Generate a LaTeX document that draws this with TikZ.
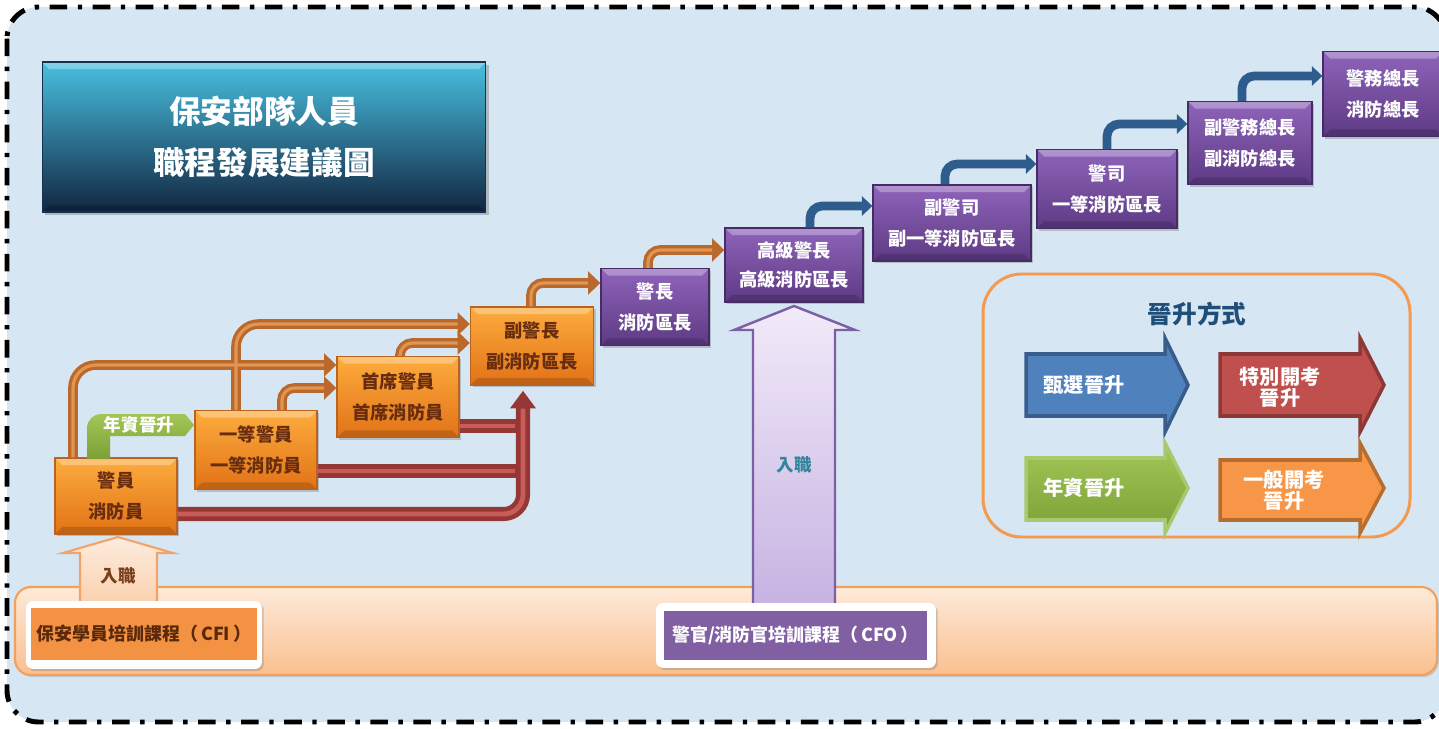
\documentclass[tikz,border=0pt]{standalone}
\usepackage{fontspec}
\newfontfamily\cjk{Noto Sans CJK TC}
\usetikzlibrary{arrows.meta,calc,shadows}

\definecolor{bgblue}{RGB}{215,230,243}
\definecolor{orgtop}{RGB}{252,172,62}
\definecolor{orgbot}{RGB}{226,114,22}
\definecolor{orgline}{RGB}{184,100,32}
\definecolor{orgtext}{RGB}{104,44,14}
\definecolor{purtop}{RGB}{142,100,186}
\definecolor{purbot}{RGB}{94,58,132}
\definecolor{purline}{RGB}{70,44,100}
\definecolor{arrorange}{RGB}{186,104,44}
\definecolor{arrorangein}{RGB}{224,150,80}
\definecolor{arrred}{RGB}{149,55,53}
\definecolor{arrredin}{RGB}{200,92,88}
\definecolor{arrblue}{RGB}{46,92,140}
\definecolor{lgblue}{RGB}{79,129,189}
\definecolor{lgblueline}{RGB}{56,93,138}
\definecolor{lgred}{RGB}{192,80,77}
\definecolor{lgredline}{RGB}{140,56,54}
\definecolor{lggreentop}{RGB}{164,198,88}
\definecolor{lggreenbot}{RGB}{124,160,54}
\definecolor{lgorange}{RGB}{247,150,70}
\definecolor{lgorangeline}{RGB}{182,109,49}
\definecolor{lgtitle}{RGB}{31,78,121}
\definecolor{legendline}{RGB}{245,154,76}
\definecolor{bartop}{RGB}{253,234,218}
\definecolor{barbot}{RGB}{250,192,143}
\definecolor{barline}{RGB}{245,160,90}
\definecolor{cfiorange}{RGB}{243,146,66}
\definecolor{cfitext}{RGB}{90,40,10}
\definecolor{cfopurple}{RGB}{128,96,162}
\definecolor{entryteal}{RGB}{49,133,155}
\definecolor{entrybrown}{RGB}{122,63,26}

\tikzset{
  frameline/.style={line width=2.8pt, dash pattern=on 10pt off 6pt on 2.5pt off 6pt,
    rounded corners=18pt},
  bevel/.style={path picture={
    \fill[white, opacity=0.3] (path picture bounding box.north west) -- (path picture bounding box.north east)
      -- ([xshift=-4pt,yshift=-4pt]path picture bounding box.north east)
      -- ([xshift=4pt,yshift=-4pt]path picture bounding box.north west) -- cycle;
    \fill[black, opacity=0.15] (path picture bounding box.south west) -- (path picture bounding box.south east)
      -- ([xshift=-4pt,yshift=4pt]path picture bounding box.south east)
      -- ([xshift=4pt,yshift=4pt]path picture bounding box.south west) -- cycle;}},
  orangebox/.style={draw=orgline, line width=0.8pt, top color=orgtop, bottom color=orgbot,
    text=orgtext, align=center, inner sep=0pt, bevel,
    font=\cjk\bfseries\fontsize{10.4}{18}\selectfont,
    drop shadow={opacity=0.4, shadow xshift=1.2pt, shadow yshift=-1.2pt}},
  purplebox/.style={draw=purline, line width=0.8pt, top color=purtop, bottom color=purbot,
    text=white, align=center, inner sep=0pt, bevel,
    font=\cjk\bfseries\fontsize{10.4}{18}\selectfont,
    drop shadow={opacity=0.4, shadow xshift=1.2pt, shadow yshift=-1.2pt}},
  titlebox/.style={draw={rgb,255:red,20;green,50;blue,80}, line width=0.6pt,
    top color={rgb,255:red,72;green,192;blue,224},
    middle color={rgb,255:red,36;green,118;blue,152},
    bottom color={rgb,255:red,18;green,38;blue,66}, bevel,
    text=white, align=center, font=\cjk\bfseries\fontsize{18}{29.5}\selectfont,
    drop shadow={opacity=0.45, shadow xshift=1.5pt, shadow yshift=-1.5pt}},
  orangeout/.style={draw=arrorange, line width=5.5pt, rounded corners=7pt,
    -{Triangle[width=13pt,length=7pt]}},
  orangein/.style={draw=arrorangein, line width=1.8pt, rounded corners=7pt, shorten >=7pt},
  redout/.style={draw=arrred, line width=8pt, rounded corners=11pt},
  redin/.style={draw=arrredin, line width=2.8pt, rounded corners=11pt},
  bluearrow/.style={draw=arrblue, line width=5pt, rounded corners=7pt,
    -{Triangle[width=11pt,length=6pt]}},
  legendtext/.style={text=white, align=center, font=\cjk\bfseries\fontsize{11.5}{12}\selectfont},
}

\begin{document}
\begin{tikzpicture}[x=0.02cm, y=-0.02cm]
    \useasboundingbox (0,0) rectangle (1439,729);
    \fill[white] (0,0) rectangle (1439,729);

    %%%%%%%%%%%%%%%%%%
    %%%%% Frame  %%%%%
    %%%%%%%%%%%%%%%%%%
    \draw[frameline, fill=bgblue] (7,7) rectangle (1446,722);

    % Title
    \node[titlebox, minimum width=8.88cm, minimum height=3cm] (title) at (264,137)
        {保安部隊人員\\職程發展建議圖};

    %%%%%%%%%%%%%%%%%%
    %%%%% Courses %%%%
    %%%%%%%%%%%%%%%%%%
    \draw[draw=barline, line width=1.2pt, top color=bartop, bottom color=barbot,
        rounded corners=9pt, drop shadow={opacity=0.3, shadow xshift=1pt, shadow yshift=-1.2pt}]
        (15,587) rectangle (1437,675);

    % Entry arrows
    \draw[draw={rgb,255:red,241;green,164;blue,105}, line width=1.2pt,
        top color={rgb,255:red,253;green,236;blue,222}, bottom color={rgb,255:red,250;green,208;blue,172}]
        (80,606) -- (80,553) -- (63,553) -- (118,537) -- (173,553) -- (157,553) -- (157,606) -- cycle;
    \node[text=entrybrown, font=\cjk\bfseries\fontsize{10}{12}\selectfont] (entrycfi) at (118,576) {入職};

    \draw[draw={rgb,255:red,125;green,95;blue,166}, line width=1.4pt,
        top color={rgb,255:red,242;green,235;blue,249}, bottom color={rgb,255:red,198;green,178;blue,226}]
        (753,606) -- (753,330) -- (734,330) -- (794,306) -- (855,330) -- (835,330) -- (835,606) -- cycle;
    \node[text=entryteal, font=\cjk\bfseries\fontsize{10}{12}\selectfont] (entrycfo) at (794,465) {入職};

    % Course boxes
    \node[fill=white, rounded corners=4pt, minimum width=4.72cm, minimum height=1.36cm,
        drop shadow={opacity=0.35, shadow xshift=1pt, shadow yshift=-1.2pt}] (cfiback) at (144,635) {};
    \node[fill=cfiorange, minimum width=4.4cm, minimum height=1.04cm, text=cfitext,
        font=\cjk\bfseries\fontsize{10.2}{12}\selectfont] (cfi) at (144,634) {保安學員培訓課程（\,CFI\,）};
    \node[fill=white, rounded corners=4pt, minimum width=5.6cm, minimum height=1.3cm,
        drop shadow={opacity=0.35, shadow xshift=1pt, shadow yshift=-1.2pt}] (cfoback) at (796,635.5) {};
    \node[fill=cfopurple, minimum width=5.26cm, minimum height=0.98cm, text=white,
        font=\cjk\bfseries\fontsize{10.2}{12}\selectfont] (cfo) at (795.5,635.5) {警官/消防官培訓課程（\,CFO\,）};

    %%%%%%%%%%%%%%%%%%
    %%%%% Ranks  %%%%%
    %%%%%%%%%%%%%%%%%%
    \node[orangebox, minimum width=2.44cm, minimum height=1.52cm] (jy) at (116,496) {警員\\消防員};
    \node[orangebox, minimum width=2.44cm, minimum height=1.58cm] (yd) at (256,450) {一等警員\\一等消防員};
    \node[orangebox, minimum width=2.44cm, minimum height=1.62cm] (sx) at (398,397) {首席警員\\首席消防員};
    \node[orangebox, minimum width=2.46cm, minimum height=1.56cm] (fjz) at (532,346) {副警長\\副消防區長};

    \node[purplebox, minimum width=2.16cm, minimum height=1.54cm] (jz) at (655,307) {警長\\消防區長};
    \node[purplebox, minimum width=2.76cm, minimum height=1.48cm,
        font=\cjk\bfseries\fontsize{10.4}{16.5}\selectfont] (gj) at (794,265) {高級警長\\高級消防區長};
    \node[purplebox, minimum width=3.16cm, minimum height=1.52cm] (fjs) at (952,223) {副警司\\副一等消防區長};
    \node[purplebox, minimum width=2.8cm, minimum height=1.58cm] (js) at (1107,189) {警司\\一等消防區長};
    \node[purplebox, minimum width=2.48cm, minimum height=1.66cm] (fz) at (1250,143) {副警務總長\\副消防總長};
    \node[purplebox, minimum width=2.4cm, minimum height=1.7cm] (zz) at (1383,94) {警務總長\\消防總長};

    %%%%%%%%%%%%%%%%%%
    %%%%% Arrows %%%%%
    %%%%%%%%%%%%%%%%%%

    % Selection (blue)
    \draw[bluearrow] ($(gj.north)+(16,0)$) |- ($(fjs.west)+(0,-17)$);
    \draw[bluearrow] ($(fjs.north)+(-7,0)$) |- ($(js.west)+(0,-25)$);
    \draw[bluearrow] (js.north) |- ($(fz.west)+(0,-19)$);
    \draw[bluearrow] ($(fz.north)+(-8,0)$) |- ($(zz.west)+(0,-18)$);

    % General exam (orange)
    \draw[orangeout] ($(jz.north)+(-7,0)$) |- ($(gj.west)+(0,-15)$);
    \draw[orangeout] ($(fjz.north)+(-1,0)$) |- ($(jz.west)+(0,-24)$);
    \draw[orangeout] ($(sx.north)+(2,0)$) |- ($(fjz.west)+(0,-3)$);
    \draw[orangeout] ($(yd.north)+(26,0)$) |- ($(sx.west)+(0,-9)$);
    \draw[orangeout, rounded corners=13pt] ($(yd.north)+(-20,0)$) |- ($(fjz.west)+(0,-22)$);
    \draw[orangeout, rounded corners=13pt] ($(jy.north)+(-43,0)$) |- ($(sx.west)+(0,-32)$);

    \draw[orangein] ($(jz.north)+(-7,0)$) |- ($(gj.west)+(0,-15)$);
    \draw[orangein] ($(fjz.north)+(-1,0)$) |- ($(jz.west)+(0,-24)$);
    \draw[orangein] ($(sx.north)+(2,0)$) |- ($(fjz.west)+(0,-3)$);
    \draw[orangein] ($(yd.north)+(26,0)$) |- ($(sx.west)+(0,-9)$);
    \draw[orangein, rounded corners=13pt] ($(yd.north)+(-20,0)$) |- ($(fjz.west)+(0,-22)$);
    \draw[orangein, rounded corners=13pt] ($(jy.north)+(-43,0)$) |- ($(sx.west)+(0,-32)$);

    % Special exam (red)
    \coordinate (rv) at ($(fjz.south)+(-9,5)$);
    \coordinate (r1) at ($(jy.east)+(0,18)$);
    \coordinate (r2) at ($(yd.east)+(0,21)$);
    \coordinate (r3) at ($(sx.east)+(0,29)$);
    \coordinate (r2e) at (r2 -| rv);
    \coordinate (r3e) at (r3 -| rv);
    \draw[redout] (r2) -- (r2e);
    \draw[redout] (r3) -- (r3e);
    \draw[redout, -{Triangle[width=14pt,length=10pt]}] (r1) -| (rv);
    \draw[redin] (r2) -- ($(r2e)+(-8,0)$);
    \draw[redin] (r3) -- ($(r3e)+(-8,0)$);
    \draw[redin] (r1) -| ($(rv)+(0,18)$);

    % Seniority (green)
    \path[top color=lggreentop, bottom color=lggreenbot]
        (87,459) [rounded corners=8pt] -- (87,414) -- (150,414) [sharp corners]
        -- (185,414) -- (194,425) -- (185,436) -- (110,436) -- (110,459) -- cycle;
    \node[text=white, font=\cjk\bfseries\fontsize{10}{12}\selectfont] (nzlabel) at (139,425) {年資晉升};

    %%%%%%%%%%%%%%%%%%
    %%%%% Legend %%%%%
    %%%%%%%%%%%%%%%%%%
    \draw[legendline, line width=1.7pt, rounded corners=22pt] (983,274) rectangle (1410,537);
    \node[text=lgtitle, font=\cjk\bfseries\fontsize{14}{16}\selectfont] (lgtitle) at (1197,314) {晉升方式};

    \filldraw[fill=lgblue, draw=lgblueline, line width=2pt]
        (1026,354) -- (1165,354) -- (1165,338) -- (1188,385) -- (1165,432) -- (1165,416) -- (1026,416) -- cycle;
    \node[legendtext] (lgselect) at (1084,385) {甄選晉升};

    \filldraw[fill=lgred, draw=lgredline, line width=2pt]
        (1220,354) -- (1360,354) -- (1360,338) -- (1384,385) -- (1360,432) -- (1360,416) -- (1220,416) -- cycle;
    \node[legendtext] (lgspecial) at (1280,387) {特別開考\\晉升};

    \filldraw[top color=lggreentop, bottom color=lggreenbot, draw={rgb,255:red,170;green,200;blue,110}, line width=2pt]
        (1026,458) -- (1165,458) -- (1165,443) -- (1188,488) -- (1165,533) -- (1165,520) -- (1026,520) -- cycle;
    \node[legendtext] (lgsenior) at (1084,488) {年資晉升};

    \filldraw[fill=lgorange, draw=lgorangeline, line width=2pt]
        (1220,460) -- (1360,460) -- (1360,443) -- (1384,488) -- (1360,533) -- (1360,520) -- (1220,520) -- cycle;
    \node[legendtext] (lggeneral) at (1284,490) {一般開考\\晉升};

\end{tikzpicture}
\end{document}
